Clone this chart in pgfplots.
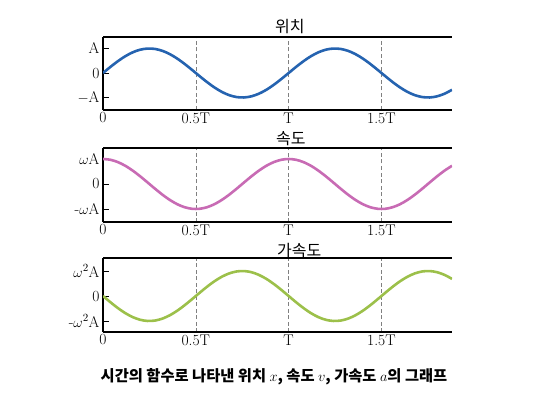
\documentclass[border=0pt]{standalone}
\usepackage{pgfplots}
\pgfplotsset{compat=1.18}
\usepackage{pgfplotstable}
\usepackage{fontspec}
\newfontfamily\kr{Noto Sans CJK KR}
\definecolor{cblue}{HTML}{2563B0}
\definecolor{cpink}{HTML}{C86BB4}
\definecolor{cgreen}{HTML}{9CC04A}
\pgfplotstableread{
t x v a
0.00 0.0000 1.0000 -0.0000
0.04 0.2487 0.9686 -0.2487
0.08 0.4818 0.8763 -0.4818
0.12 0.6845 0.7290 -0.6845
0.16 0.8443 0.5358 -0.8443
0.20 0.9511 0.3090 -0.9511
0.24 0.9980 0.0628 -0.9980
0.28 0.9823 -0.1874 -0.9823
0.32 0.9048 -0.4258 -0.9048
0.36 0.7705 -0.6374 -0.7705
0.40 0.5878 -0.8090 -0.5878
0.44 0.3681 -0.9298 -0.3681
0.48 0.1253 -0.9921 -0.1253
0.52 -0.1253 -0.9921 0.1253
0.56 -0.3681 -0.9298 0.3681
0.60 -0.5878 -0.8090 0.5878
0.64 -0.7705 -0.6374 0.7705
0.68 -0.9048 -0.4258 0.9048
0.72 -0.9823 -0.1874 0.9823
0.76 -0.9980 0.0628 0.9980
0.80 -0.9511 0.3090 0.9511
0.84 -0.8443 0.5358 0.8443
0.88 -0.6845 0.7290 0.6845
0.92 -0.4818 0.8763 0.4818
0.96 -0.2487 0.9686 0.2487
1.00 0.0000 1.0000 0.0000
1.04 0.2487 0.9686 -0.2487
1.08 0.4818 0.8763 -0.4818
1.12 0.6845 0.7290 -0.6845
1.16 0.8443 0.5358 -0.8443
1.20 0.9511 0.3090 -0.9511
1.24 0.9980 0.0628 -0.9980
1.28 0.9823 -0.1874 -0.9823
1.32 0.9048 -0.4258 -0.9048
1.36 0.7705 -0.6374 -0.7705
1.40 0.5878 -0.8090 -0.5878
1.44 0.3681 -0.9298 -0.3681
1.48 0.1253 -0.9921 -0.1253
1.52 -0.1253 -0.9921 0.1253
1.56 -0.3681 -0.9298 0.3681
1.60 -0.5878 -0.8090 0.5878
1.64 -0.7705 -0.6374 0.7705
1.68 -0.9048 -0.4258 0.9048
1.72 -0.9823 -0.1874 0.9823
1.76 -0.9980 0.0628 0.9980
1.80 -0.9511 0.3090 0.9511
1.84 -0.8443 0.5358 0.8443
1.88 -0.6845 0.7290 0.6845
}\wavedata
\pgfplotsset{
  panel/.style={
    scale only axis, width=349pt, height=74pt,
    anchor=south west,
    xmin=0, xmax=1.88,
    axis x line*=box, axis y line*=left,
    axis line style={black, line width=1.7pt},
    xtick={0,0.5,1,1.5}, xticklabels={0,0.5T,T,1.5T},
    ytick={-1,0,1},
    xmajorgrids,
    major x grid style={gray, line width=0.6pt, dash pattern=on 4pt off 2.5pt},
    xtick style={draw=none},
    ytick style={black, line width=1pt},
    tick align=inside, major tick length=6pt,
    ticklabel style={font=\fontsize{15.5}{17}\selectfont},
    xticklabel style={yshift=1pt},
    every axis plot/.append style={line width=2.6pt, smooth},
  }
}
\begin{document}
\begin{tikzpicture}
\useasboundingbox (0,0) rectangle (537pt,394pt);
\begin{axis}[panel, at={(103pt,284pt)}, height=73pt, ymin=-1.51, ymax=1.47,
  yticklabels={$-$A,0,A}]
\addplot[cblue] table[x=t,y=x] {\wavedata};
\end{axis}
\begin{axis}[panel, at={(103pt,172pt)}, ymin=-1.52, ymax=1.44,
  yticklabels={-$\omega$A,0,$\omega$A}]
\addplot[cpink] table[x=t,y=v] {\wavedata};
\end{axis}
\begin{axis}[panel, at={(103pt,62pt)}, ymin=-1.44, ymax=1.52,
  yticklabels={-$\omega^2$A,0,$\omega^2$A}]
\addplot[cgreen] table[x=t,y=a] {\wavedata};
\end{axis}
\node[anchor=west, font=\kr\fontsize{16}{18}\selectfont, inner sep=0pt] at (275pt,367pt) {위치};
\node[anchor=west, font=\kr\fontsize{16}{18}\selectfont, inner sep=0pt] at (276pt,255pt) {속도};
\node[anchor=west, font=\kr\fontsize{16}{18}\selectfont, inner sep=0pt] at (277pt,143pt) {가속도};
\node[font=\kr\bfseries\fontsize{15.3}{18}\selectfont, inner sep=0pt] at (274pt,17pt) {시간의 함수로 나타낸 위치 $x$, 속도 $v$, 가속도 $a$의 그래프};
\end{tikzpicture}
\end{document}
